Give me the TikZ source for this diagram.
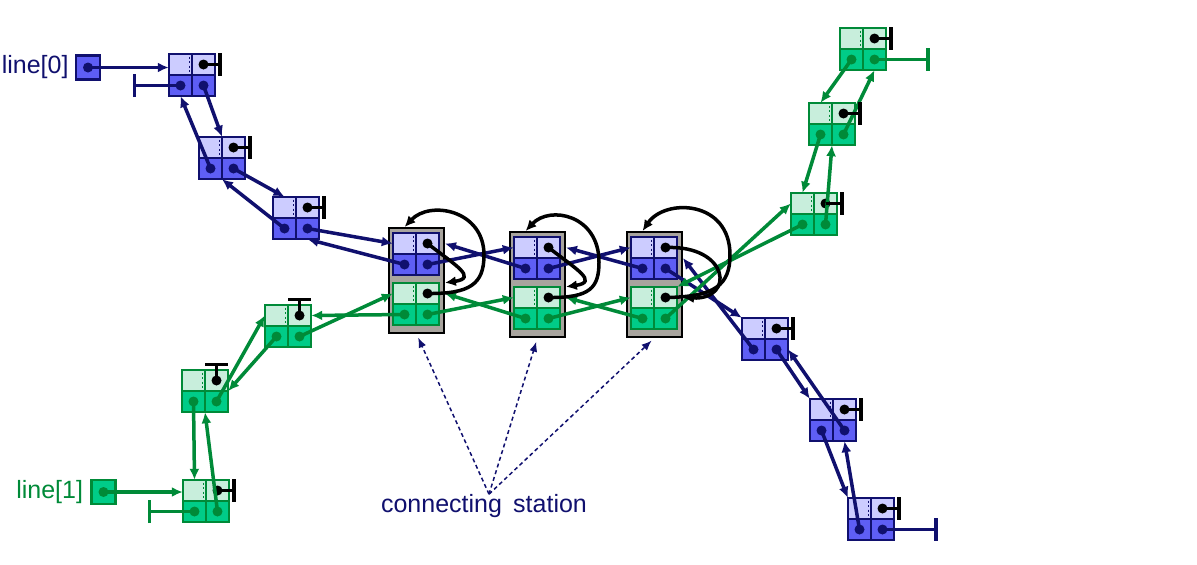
\documentclass[tikz,border=0pt]{standalone}
\usepackage{fontspec}
\setmainfont{Liberation Sans}
\usetikzlibrary{arrows.meta}

\definecolor{bedge}{RGB}{16,16,110}
\definecolor{bdark}{RGB}{94,94,245}
\definecolor{blight}{RGB}{204,204,255}
\definecolor{gedge}{RGB}{0,138,56}
\definecolor{gdark}{RGB}{0,204,136}
\definecolor{glight}{RGB}{200,238,220}
\definecolor{stgray}{RGB}{168,164,158}

\tikzset{
  cellbox/.style={minimum width=46, minimum height=42, inner sep=0},
  headbox/.style={minimum width=24, minimum height=24, inner sep=0, line width=2.6pt, fill=#1dark, draw=#1edge},
  stationbox/.style={minimum width=55, minimum height=105, inner sep=0, fill=stgray, draw=black, line width=1.8pt},
  ptr/.style={line width=3.5pt, -{Latex[length=11pt,width=10pt]}},
  bptr/.style={ptr, bedge},
  gptr/.style={ptr, gedge},
  nil/.style={line width=3.5pt, -{Bar[width=23pt]}},
  loopptr/.style={line width=3.5pt, black, -{Latex[length=11pt,width=10pt]}},
  lbl/.style={font=\fontsize{25}{30}\selectfont, inner sep=0},
}

% list node: name, left, top, colour (b/g)
\newcommand\listnode[4]{
  \fill[#4light] (#2,#3) rectangle ++(46,21);
  \fill[#4dark] (#2,#3+21) rectangle ++(46,21);
  \draw[#4edge, line width=2.6pt] (#2,#3) rectangle ++(46,42) (#2,#3+21) -- ++(46,0) (#2+23,#3) -- ++(0,42);
  \draw[#4edge, line width=1.8pt, dash pattern=on 2pt off 2.5pt] (#2+20.5,#3+2.5) -- ++(0,17);
  \node[cellbox] (#1) at (#2+23,#3+21) {};
  \coordinate (#1-tl) at (#2+11.5,#3+10.5);
  \coordinate (#1-tr) at (#2+34.5,#3+10.5);
  \coordinate (#1-bl) at (#2+11.5,#3+31.5);
  \coordinate (#1-br) at (#2+34.5,#3+31.5);
  \fill (#1-tr) circle (5);
  \fill[#4edge] (#1-bl) circle (5) (#1-br) circle (5);
}
% station: name, left, top of its blue node
\newcommand\stationnode[3]{
  \node[stationbox] (#1) at (#2+23.5,#3+47.5) {};
  \listnode{#1b}{#2}{#3}{b}
  \listnode{#1g}{#2}{#3+50}{g}
}

\begin{document}
\begin{tikzpicture}[x=1pt,y=-1pt]
\useasboundingbox (0,0) rectangle (1197,565);
%stations
\stationnode{S1}{393}{233}
\stationnode{S2}{514}{237}
\stationnode{S3}{631}{237}
%line 0
\listnode{B1}{169}{54}{b}
\listnode{B2}{199}{137}{b}
\listnode{B3}{273}{197}{b}
\listnode{B4}{742}{318}{b}
\listnode{B5}{810}{399}{b}
\listnode{B6}{848}{498}{b}
%line 1
\listnode{G1}{183}{480}{g}
\listnode{G2}{182}{370}{g}
\listnode{G3}{265}{305}{g}
\listnode{G4}{791}{193}{g}
\listnode{G5}{809}{103}{g}
\listnode{G6}{840}{28}{g}
%heads
\node[headbox=b] (h0) at (88,67.5) {};
\node[headbox=g] (h1) at (103.5,492) {};
\fill[bedge] (h0) circle (5);
\fill[gedge] (h1) circle (5);
\node[lbl, bedge, anchor=east] (l0) at ([xshift=-6]h0.west) {line[0]};
\node[lbl, gedge, anchor=east] (l1) at ([xshift=-7]h1.west) {line[1]};
\node[lbl, bedge] (cs) at (484,506) {connecting\hspace{0.45em}station};
%blue pointers
\draw[bptr] (h0.center) -- (h0 -| B1.west);
\draw[bptr] (B1-br) -- (B2.north);
\draw[bptr] (B2-bl) -- (B1-bl |- B1.south);
\draw[bptr] (B2-br) -- (B3-tl |- B3.north);
\draw[bptr] (B3-bl) -- (B2.south);
\draw[bptr] (B3-br) -- (S1b.west |- S1b-tl);
\draw[bptr] (S1b-bl) -- (B3-br |- B3.south);
\draw[bptr] (S1b-br) -- (S2b.west |- S2b-tl);
\draw[bptr] (S2b-bl) -- (S1.east |- S1b-tl);
\draw[bptr] (S2b-br) -- (S3b.west |- S3b-tl);
\draw[bptr] (S3b-bl) -- (S2.east |- S2b-tl);
\draw[bptr] (S3b-br) -- (B4.north west);
\draw[bptr] (B4-bl) -- (S3.east |- S3b);
\draw[bptr] (B4-br) -- (B5.north west);
\draw[bptr] (B5-br) -- (B4.east |- B4-br);
\draw[bptr] (B5-bl) -- (B6.north west);
\draw[bptr] (B6-bl) -- (B5-br |- B5.south);
%green pointers
\draw[gptr] (h1.center) -- (h1 -| G1.west);
\draw[gptr] (G1-br) -- (G2.south);
\draw[gptr] (G2-bl) -- (G1-tl |- G1.north);
\draw[gptr] (G2-br) -- (G3.west |- G3-tl);
\draw[gptr] (G3-bl) -- (G2.east);
\draw[gptr] (G3-br) -- (S1g.west |- S1g-tl);
\draw[gptr] (S1g-bl) -- (G3.east |- G3-tr);
\draw[gptr] (S1g-br) -- (S2g.west |- S2g-tl);
\draw[gptr] (S2g-bl) -- (S1.east |- S1g-tl);
\draw[gptr] (S2g-br) -- (S3g.west |- S3g-tl);
\draw[gptr] (S3g-bl) -- (S2.east |- S2g-tl);
\draw[gptr] (S3g-br) -- (G4.west |- G4-tl);
\draw[gptr] (G4-bl) -- (S3g.north east);
\draw[gptr] (G4-br) -- (G5.south);
\draw[gptr] (G5-bl) -- (G4-tl |- G4.north);
\draw[gptr] (G5-br) -- (G6-tr |- G6.south);
\draw[gptr] (G6-bl) -- (G5-tl |- G5.north);
%ends
\draw[nil, bedge] (B1-bl) -- ++(-48,0);
\draw[nil, bedge] (B6-br) -- ++(55,0);
\draw[nil, gedge] (G1-bl) -- ++(-47,0);
\draw[nil, gedge] (G6-br) -- ++(55,0);
\foreach\n in {B1,B2,B3,B4,B5,B6,G1,G4,G5,G6} {
  \draw[nil] (\n-tr) -- ++(18,0);
}
\foreach\n in {G2,G3} {
  \draw[nil] (\n-tr) -- ++(0,-18);
}
%station loops
\draw[loopptr] (S1b-tr) .. controls (455,265) and (478,278) .. (S1.east |- S1g.north);
\draw[loopptr] (S1g-tr) .. controls (470,294) and (484,284) .. (484,255) .. controls (484,210) and (430,200) .. (S1b-tl |- S1.north);
\draw[loopptr] (S2b-tr) .. controls (576,269) and (599,282) .. (S2.east |- S2g.north);
\draw[loopptr] (S2g-tr) .. controls (590,298) and (599,288) .. (599,262) .. controls (599,215) and (550,205) .. (S2b-tl |- S2.north);
\draw[loopptr] (S3b-tr) .. controls (730,245) and (735,300) .. (S3.east |- S3g-tr);
\draw[loopptr] (S3g-tr) .. controls (715,297) and (730,285) .. (730,255) .. controls (730,200) and (665,198) .. (S3b-tl |- S3.north);
%label arrows
\foreach\s in {S1,S2,S3} {
  \draw[bedge, line width=1.5pt, dash pattern=on 4pt off 3pt, -{Latex[length=10pt,width=8pt]}, shorten >=4pt] ([xshift=5]cs.north) -- (\s.south);
}
\end{tikzpicture}
\end{document}
